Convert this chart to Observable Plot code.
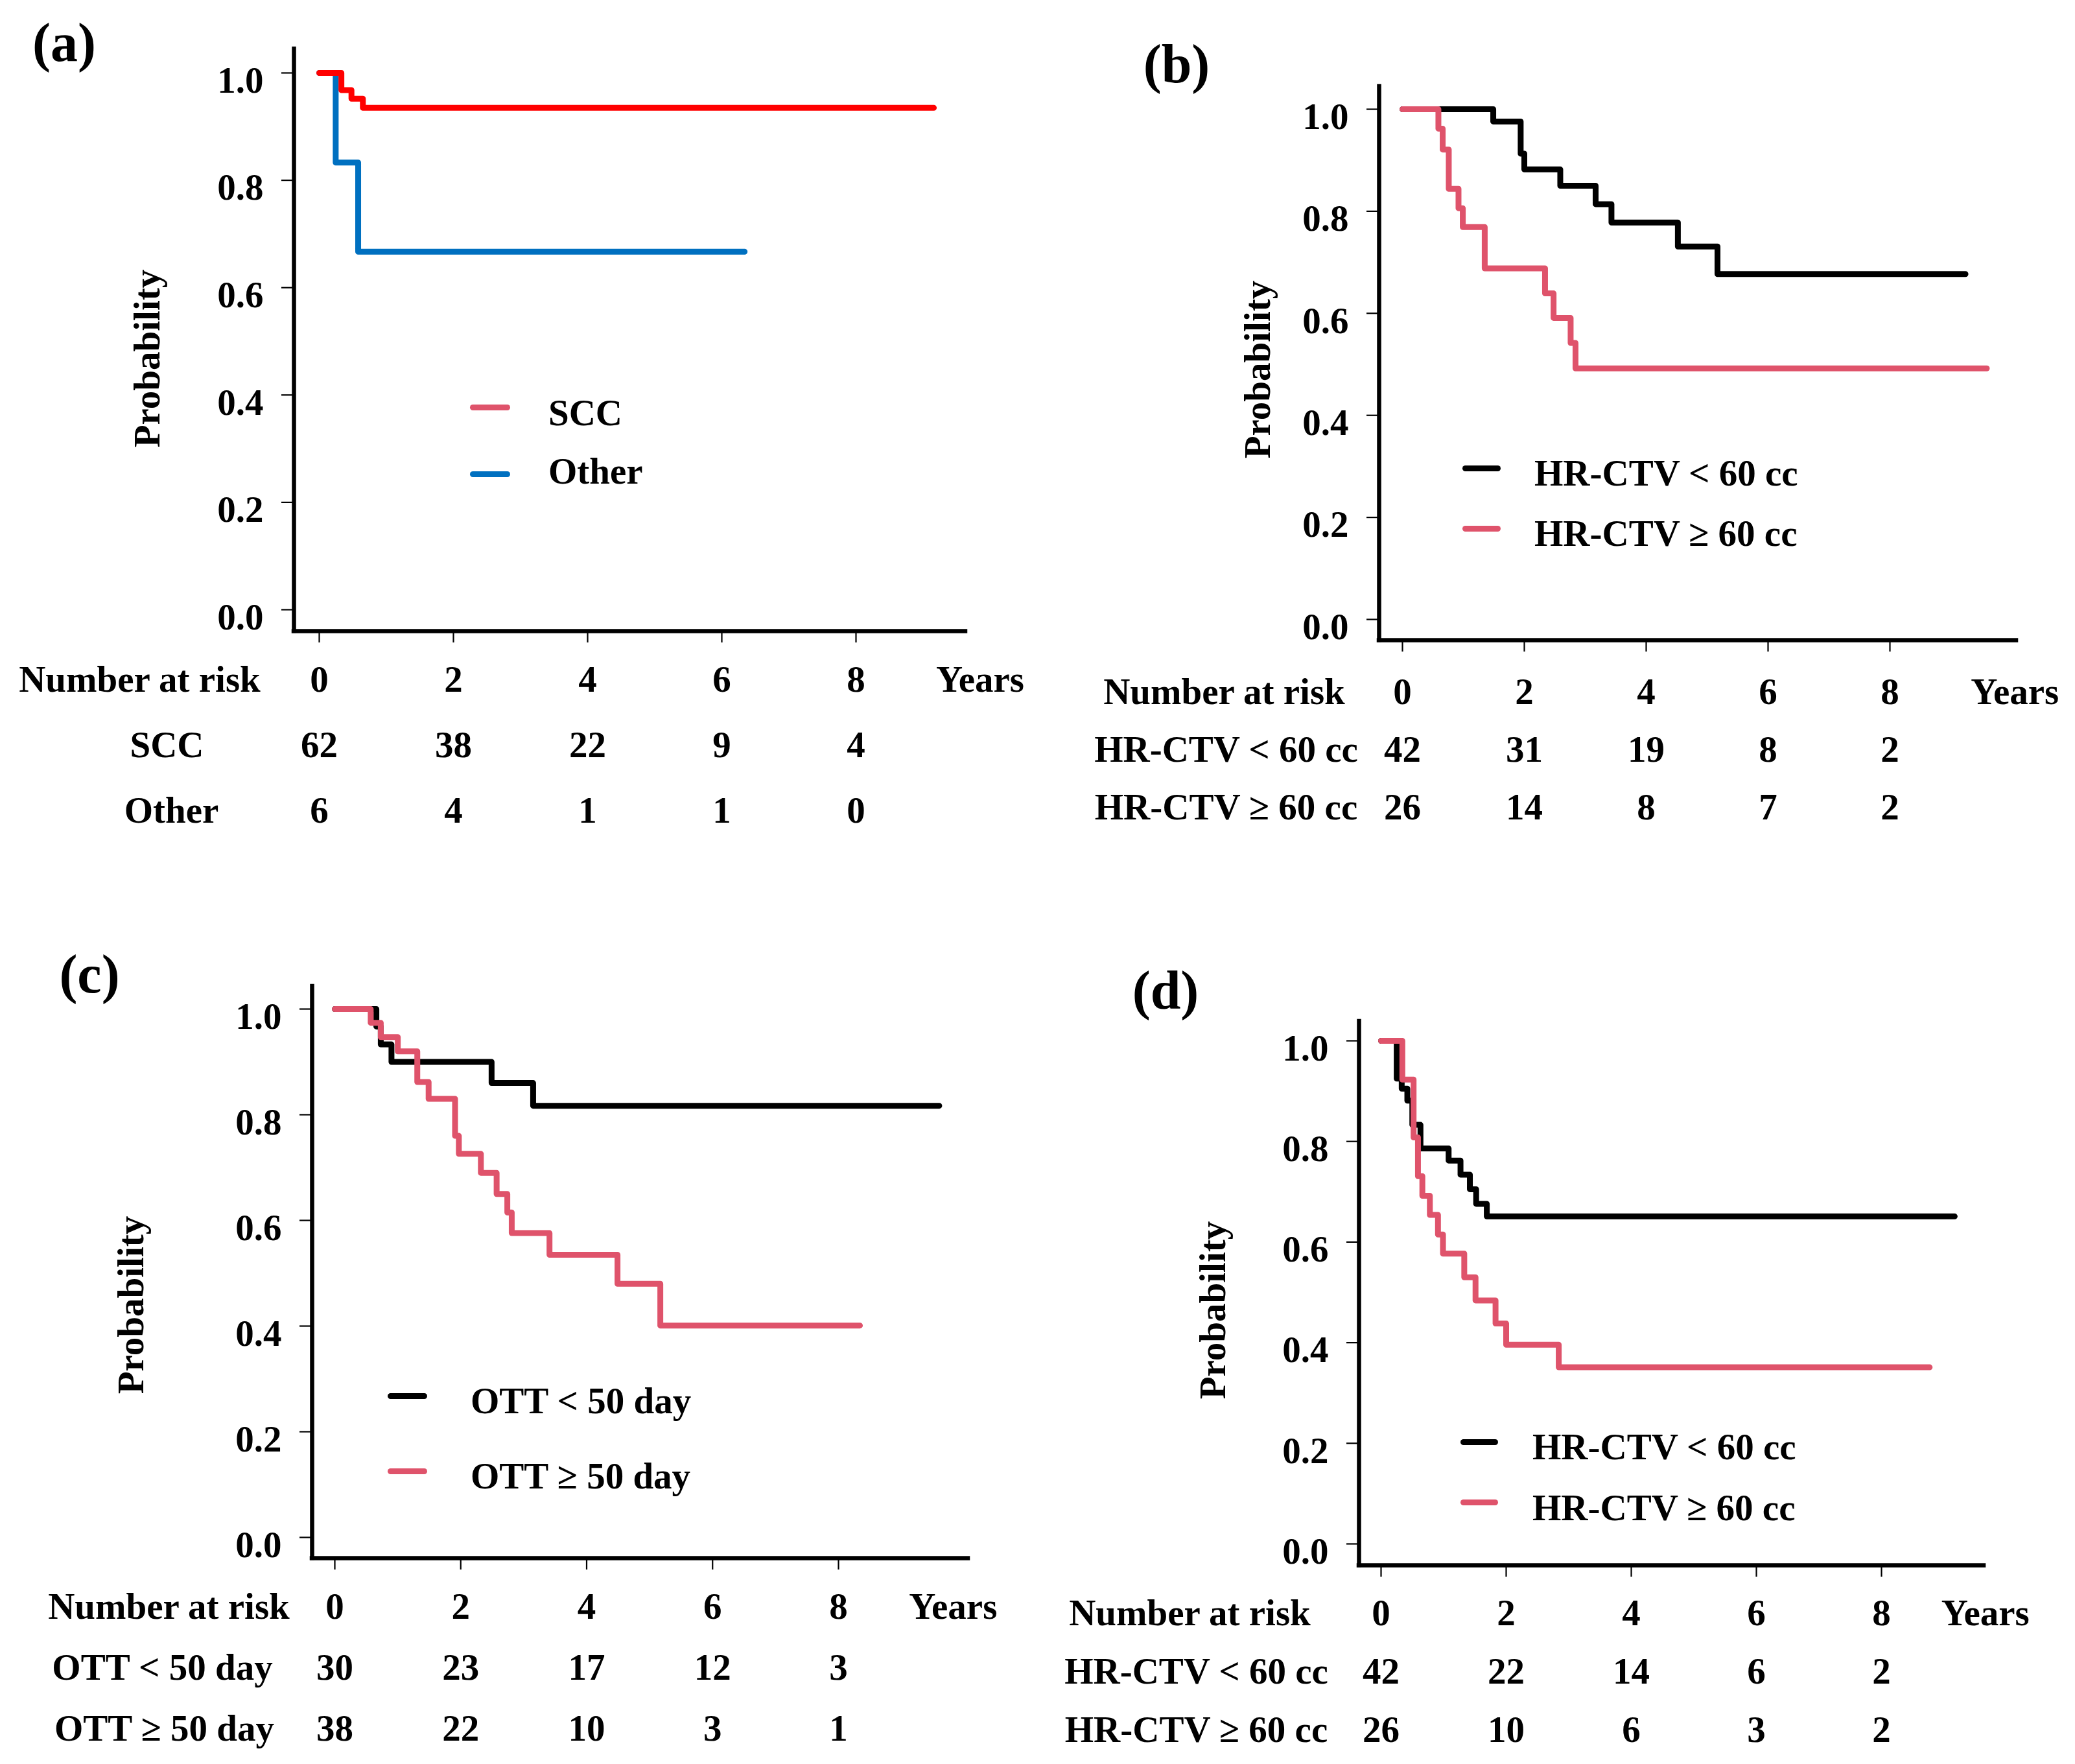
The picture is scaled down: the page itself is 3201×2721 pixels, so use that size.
<!DOCTYPE html>
<html><head><meta charset="utf-8">
<script src="https://cdn.jsdelivr.net/npm/d3@7"></script>
<script src="https://cdn.jsdelivr.net/npm/@observablehq/plot@0.6"></script>
<style>
body{margin:0;background:#fff;}
#root{position:relative;width:3201px;height:2721px;background:#fff;overflow:hidden;font-family:"Liberation Serif","Times New Roman",serif;font-weight:bold;color:#000;}
.abs{position:absolute;}
.lbl{position:absolute;white-space:nowrap;line-height:1;font-weight:bold;}
</style></head><body><div id="root"></div>
<script>
// ---------- data ----------
const riskTimes = [0, 2, 4, 6, 8];
const yTicks = [0, 0.2, 0.4, 0.6, 0.8, 1.0];

// (a) histology
const aSccTime   = [0, 0.33, 0.48, 0.65, 9.16];
const aSccSurv   = [1, 0.968, 0.952, 0.935, 0.935];
const aOtherTime = [0, 0.245, 0.58, 6.34];
const aOtherSurv = [1, 0.833, 0.667, 0.667];
const aLabels    = ["SCC", "Other"];
const aRiskScc   = [62, 38, 22, 9, 4];
const aRiskOther = [6, 4, 1, 1, 0];

// (b) HR-CTV
const bLtTime = [0, 1.49, 1.94, 2.0, 2.59, 3.17, 3.43, 4.52, 5.17, 9.24];
const bLtSurv = [1, 0.976, 0.913, 0.882, 0.850, 0.814, 0.778, 0.731, 0.677, 0.677];
const bGeTime = [0, 0.59, 0.66, 0.76, 0.92, 0.99, 1.35, 2.34, 2.48, 2.76, 2.84, 9.59];
const bGeSurv = [1, 0.962, 0.921, 0.844, 0.806, 0.769, 0.688, 0.639, 0.591, 0.542, 0.492, 0.492];
const bLabels = ["HR-CTV < 60 cc", "HR-CTV ≥ 60 cc"];
const bRiskLt = [42, 31, 19, 8, 2];
const bRiskGe = [26, 14, 8, 7, 2];

// (c) OTT
const cLtTime = [0, 0.66, 0.73, 0.90, 2.49, 3.15, 9.60];
const cLtSurv = [1, 0.967, 0.933, 0.900, 0.860, 0.817, 0.817];
const cGeTime = [0, 0.57, 0.73, 1.0, 1.31, 1.49, 1.91, 1.97, 2.32, 2.57, 2.74, 2.81, 3.41, 4.49, 5.17, 8.34];
const cGeSurv = [1, 0.974, 0.947, 0.920, 0.862, 0.830, 0.760, 0.726, 0.690, 0.650, 0.615, 0.576, 0.535, 0.480, 0.401, 0.401];
const cLabels = ["OTT < 50 day", "OTT ≥ 50 day"];
const cRiskLt = [30, 23, 17, 12, 3];
const cRiskGe = [38, 22, 10, 3, 1];

// (d) HR-CTV
const dLtTime = [0, 0.25, 0.33, 0.42, 0.50, 0.63, 1.08, 1.27, 1.42, 1.52, 1.69, 9.17];
const dLtSurv = [1, 0.925, 0.905, 0.881, 0.833, 0.786, 0.762, 0.734, 0.705, 0.676, 0.651, 0.651];
const dGeTime = [0, 0.34, 0.52, 0.59, 0.66, 0.78, 0.91, 0.99, 1.33, 1.51, 1.83, 2.0, 2.84, 8.77];
const dGeSurv = [1, 0.923, 0.808, 0.731, 0.692, 0.654, 0.615, 0.577, 0.530, 0.484, 0.438, 0.396, 0.351, 0.351];
const dLabels = ["HR-CTV < 60 cc", "HR-CTV ≥ 60 cc"];
const dRiskLt = [42, 22, 14, 6, 2];
const dRiskGe = [26, 10, 6, 3, 2];

// ---------- styles / layout ----------
const RED = "#FF0000", PINK = "#DF536B", BLUE = "#0070C0", BLACK = "#000000";
const FONT = '"Liberation Serif","Times New Roman",serif';
const FS = 57;

const panels = [
  {tag: "(a)", left: 0, top: 0, w: 1600, h: 1000,
   axisL: 453, axisT: 75, axisR: 1489, axisB: 973, x0: 492, x8: 1320, y0: 940, y1: 112,
   series: [{t: aOtherTime, s: aOtherSurv, color: BLUE}, {t: aSccTime, s: aSccSurv, color: RED}],
   legend: {barX: 725, barW: 62, ys: [628, 731], textX: 846, textYs: [636, 726], colors: [PINK, BLUE], labels: aLabels},
   tagPos: [99, 72], ylabPos: [220, 553],
   table: {top: 1000, h: 300, rows: [47, 150, 250], labelCx: [215, 257, 264], years: 9.85, counts: [aRiskScc, aRiskOther], labels: aLabels}},
  {tag: "(b)", left: 1600, top: 0, w: 1601, h: 1020,
   axisL: 2127, axisT: 133, axisR: 3110, axisB: 987, x0: 2163, x8: 2915, y0: 955, y1: 168,
   series: [{t: bLtTime, s: bLtSurv, color: BLACK}, {t: bGeTime, s: bGeSurv, color: PINK}],
   legend: {barX: 2256, barW: 59, ys: [722, 815], textX: 2367, textYs: [729, 822], colors: [BLACK, PINK], labels: bLabels},
   tagPos: [1815, 105], ylabPos: [1933, 570],
   table: {top: 1020, h: 280, rows: [47, 140, 225], labelCx: [1888, 1891, 1891], years: 10.05, counts: [bRiskLt, bRiskGe], labels: bLabels}},
  {tag: "(c)", left: 0, top: 1400, w: 1600, h: 1030,
   axisL: 481, axisT: 1521, axisR: 1493, axisB: 2403, x0: 516, x8: 1293, y0: 2371, y1: 1556,
   series: [{t: cLtTime, s: cLtSurv, color: BLACK}, {t: cGeTime, s: cGeSurv, color: PINK}],
   legend: {barX: 598, barW: 61, ys: [2153, 2269], textX: 726, textYs: [2160, 2276], colors: [BLACK, PINK], labels: cLabels},
   tagPos: [138, 1509], ylabPos: [195, 2013],
   table: {top: 2430, h: 291, rows: [47, 146, 236], labelCx: [260, 250, 253], years: 9.82, counts: [cRiskLt, cRiskGe], labels: cLabels}},
  {tag: "(d)", left: 1600, top: 1400, w: 1601, h: 1040,
   axisL: 2096, axisT: 1575, axisR: 3060, axisB: 2414, x0: 2130, x8: 2902, y0: 2381, y1: 1605,
   series: [{t: dLtTime, s: dLtSurv, color: BLACK}, {t: dGeTime, s: dGeSurv, color: PINK}],
   legend: {barX: 2253, barW: 58, ys: [2224, 2317], textX: 2364, textYs: [2231, 2325], colors: [BLACK, PINK], labels: dLabels},
   tagPos: [1798, 1534], ylabPos: [1864, 2021],
   table: {top: 2440, h: 281, rows: [48, 136, 228], labelCx: [1835, 1845, 1845], years: 9.66, counts: [dRiskLt, dRiskGe], labels: dLabels}}
];

const root = document.getElementById("root");

function place(el, left, top, w) {
  const d = document.createElement("div");
  d.className = "abs";
  d.style.left = left + "px"; d.style.top = top + "px"; d.style.width = w + "px";
  d.appendChild(el);
  root.appendChild(d);
}
function label(text, x, y, size, extra) {
  const d = document.createElement("div");
  d.className = "lbl";
  d.textContent = text;
  d.style.left = x + "px"; d.style.top = y + "px";
  d.style.fontSize = size + "px";
  d.style.transform = extra || "translate(-50%,-50%)";
  root.appendChild(d);
  return d;
}

for (const p of panels) {
  const mL = p.axisL - p.left, mT = p.axisT - p.top, mR = p.left + p.w - p.axisR, mB = p.top + p.h - p.axisB;
  const xr = [p.x0 - p.left, p.x8 - p.left];
  const yr = [p.y0 - p.top, p.y1 - p.top];
  const xAtLeft = (mL - xr[0]) / (xr[1] - xr[0]) * 8;
  const yAtBottom = ((p.h - mB) - yr[0]) / (yr[1] - yr[0]);

  const marks = [
    Plot.axisY({ticks: yTicks, anchor: "left", tickSize: 19, tickFormat: () => "", label: null, strokeWidth: 2.2}),
    Plot.axisX({ticks: riskTimes, anchor: "bottom", tickSize: 18, tickFormat: () => "", label: null, strokeWidth: 2.2}),
    Plot.text(yTicks, {y: d => d, text: d => d.toFixed(1), frameAnchor: "left", textAnchor: "end", dx: -47, dy: 12, fontSize: FS}),
    Plot.ruleX([xAtLeft], {stroke: BLACK, strokeWidth: 6.5, strokeLinecap: "square"}),
    Plot.ruleY([yAtBottom], {stroke: BLACK, strokeWidth: 6.5, strokeLinecap: "square"})
  ];
  for (const s of p.series) {
    const pts = s.t.map((t, i) => ({t, s: s.s[i]}));
    marks.push(Plot.line(pts, {x: "t", y: "s", curve: "step-after", stroke: s.color, strokeWidth: 9, strokeLinecap: "round", strokeLinejoin: "round"}));
  }
  const svg = Plot.plot({
    width: p.w, height: p.h,
    marginLeft: mL, marginTop: mT, marginRight: mR, marginBottom: mB,
    x: {domain: [0, 8], range: xr},
    y: {domain: [0, 1], range: yr},
    style: {fontFamily: FONT, fontWeight: "bold", background: "transparent", overflow: "visible", color: "#000"},
    marks
  });
  place(svg, p.left, p.top, p.w);

  // number-at-risk table
  const t = p.table;
  const rowNames = ["hdr", "r1", "r2"];
  const cells = [];
  riskTimes.forEach((tm, i) => {
    cells.push({x: tm, row: "hdr", text: String(tm)});
    cells.push({x: tm, row: "r1", text: String(t.counts[0][i])});
    cells.push({x: tm, row: "r2", text: String(t.counts[1][i])});
  });
  const rowLabels = ["Number at risk", t.labels[0], t.labels[1]];
  const tmarks = [
    Plot.text(cells, {x: "x", y: "row", text: "text", fontSize: FS}),
    Plot.text(["Years"], {x: () => t.years, y: () => "hdr", text: d => d, fontSize: FS})
  ];
  rowLabels.forEach((lab, i) => {
    tmarks.push(Plot.text([lab], {y: () => rowNames[i], text: d => d, frameAnchor: "left", textAnchor: "middle", dx: t.labelCx[i] - p.left, fontSize: FS}));
  });
  const tsvg = Plot.plot({
    width: p.w, height: t.h, margin: 0,
    x: {domain: [0, 8], range: xr, axis: null},
    y: {type: "point", domain: rowNames, range: [t.rows[0], t.rows[2]], padding: 0, axis: null},
    style: {fontFamily: FONT, fontWeight: "bold", background: "transparent", overflow: "visible", color: "#000"},
    marks: tmarks
  });
  place(tsvg, p.left, t.top, p.w);

  // panel tag and y label
  label(p.tag, p.tagPos[0], p.tagPos[1] - 6, 84);
  label("Probability", p.ylabPos[0] + 6, p.ylabPos[1], FS, "translate(-50%,-50%) rotate(-90deg)");

  // legend
  const L = p.legend;
  L.labels.forEach((lab, i) => {
    const bar = document.createElement("div");
    bar.className = "abs";
    bar.style.left = L.barX + "px"; bar.style.top = (L.ys[i] - 4.5) + "px";
    bar.style.width = L.barW + "px"; bar.style.height = "9px";
    bar.style.borderRadius = "4.5px"; bar.style.background = L.colors[i];
    root.appendChild(bar);
    label(lab, L.textX, L.textYs[i], FS, "translate(0,-50%)");
  });
}
</script></body></html>
